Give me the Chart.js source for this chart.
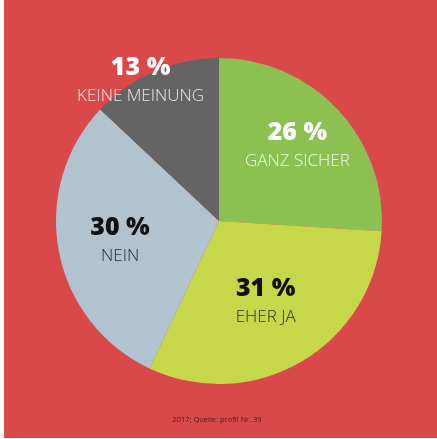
<!DOCTYPE html>
<html><head><meta charset="utf-8">
<script src="https://cdn.jsdelivr.net/npm/chart.js@4/dist/chart.umd.min.js"></script>
<style>
html,body{margin:0;padding:0;background:#fff;}
#wrap{position:absolute;left:0;top:0;width:437px;height:439px;}
#bg{position:absolute;left:4px;top:0;width:433px;height:438px;background:#d9494a;}
canvas{position:absolute;left:0;top:0;}
</style></head>
<body>
<div id="wrap"><div id="bg"></div><canvas id="c" width="437" height="439"></canvas></div>
<script>
const categories = ["GANZ SICHER", "EHER JA", "NEIN", "KEINE MEINUNG"];
const values = [26, 31, 30, 13];
const colors = ["#8cc152", "#c6d84a", "#b1c3cf", "#646464"];
const numberColors = ["#ffffff", "#111111", "#111111", "#ffffff"];
const nameColors = ["rgba(255,255,255,0.88)", "#2e2e2e", "#2e2e2e", "rgba(255,255,255,0.85)"];
const labelRadius = [0.66, 0.58, 0.62, 0.98];
const labelAngleShift = [0, 1, -1, -6];
const source = "2017; Quelle: profil Nr. 39";

const labelPlugin = {
  id: 'labels',
  afterDatasetsDraw(chart) {
    const ctx = chart.ctx;
    const meta = chart.getDatasetMeta(0);
    meta.data.forEach((arc, i) => {
      const p = arc.getProps(['x','y','startAngle','endAngle','outerRadius'], true);
      const mid = (p.startAngle + p.endAngle) / 2 + labelAngleShift[i] * Math.PI / 180;
      const r = p.outerRadius * labelRadius[i];
      const x = p.x + Math.cos(mid) * r;
      const y = p.y + Math.sin(mid) * r;
      ctx.save();
      ctx.textAlign = 'center';
      ctx.textBaseline = 'middle';
      ctx.fillStyle = numberColors[i];
      ctx.font = '800 25px "Open Sans"';
      ctx.fillText(values[i] + ' %', x, y - 14);
      ctx.fillStyle = nameColors[i];
      ctx.font = '300 17px "Open Sans"';
      ctx.fillText(categories[i], x, y + 14);
      ctx.restore();
    });
    ctx.save();
    ctx.textAlign = 'center';
    ctx.textBaseline = 'middle';
    ctx.fillStyle = '#4a1c1c';
    ctx.font = '7.5px "Open Sans"';
    ctx.fillText(source, 217, 420);
    ctx.restore();
  }
};

new Chart(document.getElementById('c'), {
  type: 'pie',
  data: { labels: categories, datasets: [{ data: values, backgroundColor: colors, borderWidth: 0 }] },
  options: {
    responsive: false,
    animation: false,
    layout: { padding: { left: 56, right: 55, top: 58, bottom: 55 } },
    plugins: { legend: { display: false }, tooltip: { enabled: false } }
  },
  plugins: [labelPlugin]
});
</script>
</body></html>
